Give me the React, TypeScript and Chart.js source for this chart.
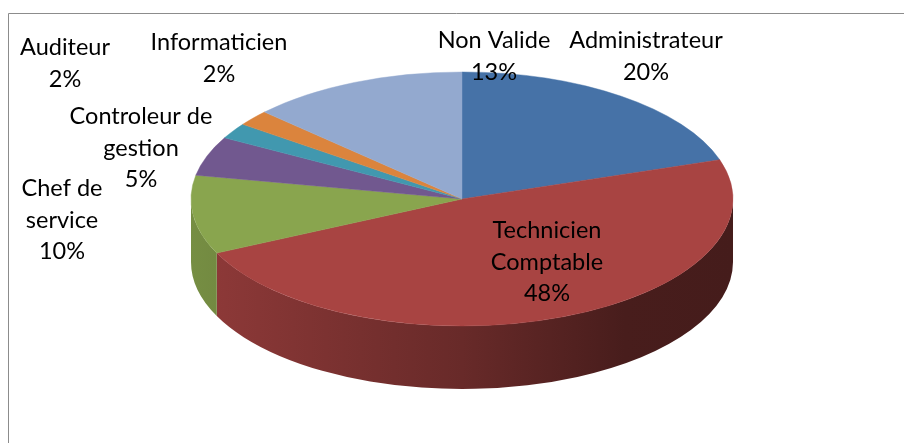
import React, { useEffect, useRef } from "react";
import { Chart, registerables } from "chart.js";

Chart.register(...registerables);

// ---- data ----
const categories = [
  "Administrateur",
  "Technicien Comptable",
  "Chef de service",
  "Controleur de gestion",
  "Auditeur",
  "Informaticien",
  "Non Valide",
];
const values = [20, 48, 10, 5, 2, 2, 13];
const nameLines = [
  ["Administrateur"],
  ["Technicien", "Comptable"],
  ["Chef de", "service"],
  ["Controleur de", "gestion"],
  ["Auditeur"],
  ["Informaticien"],
  ["Non Valide"],
];
const colors = ["#4672A7", "#A84442", "#89A54E", "#71588F", "#4198AF", "#DB843D", "#93A9CF"];

// ---- layout (not data) ----
const labelPos = [
  [646, 48],
  [547, 238],
  [62, 196],
  [141, 124],
  [65, 55],
  [219, 50],
  [494, 48],
];
const LINE_H = 31.5;
const FONT = "23.5px Lato, 'Open Sans', sans-serif";
const ELL = { cx: 462, cy: 199, rx: 271, ry: 127, depth: 63 };

function shade(hex: string, f: number) {
  const n = parseInt(hex.slice(1), 16);
  const r = Math.round(((n >> 16) & 255) * f);
  const g = Math.round(((n >> 8) & 255) * f);
  const b = Math.round((n & 255) * f);
  return `rgb(${r},${g},${b})`;
}

const pie3d = {
  id: "pie3d",
  beforeDraw(chart: any) {
    const ctx = chart.ctx;
    ctx.save();
    ctx.fillStyle = "#ffffff";
    ctx.fillRect(0, 0, chart.width, chart.height);
    ctx.strokeStyle = "#8c8c8c";
    ctx.lineWidth = 1;
    ctx.beginPath();
    ctx.moveTo(8.5, chart.height);
    ctx.lineTo(8.5, 13.5);
    ctx.lineTo(chart.width, 13.5);
    ctx.stroke();
    ctx.restore();
  },
  beforeDatasetsDraw(chart: any) {
    const ctx = chart.ctx;
    const meta = chart.getDatasetMeta(0);
    const { cx, cy, rx, ry, depth } = ELL;
    ctx.save();
    meta.data.forEach((arc: any, i: number) => {
      const p = arc.getProps(["startAngle", "endAngle"], true);
      const a = Math.max(p.startAngle, 0);
      const b = Math.min(p.endAngle, Math.PI);
      if (b <= a) return;
      const g = ctx.createLinearGradient(cx - rx, 0, cx + rx, 0);
      g.addColorStop(0, shade(colors[i], 0.86));
      g.addColorStop(0.5, shade(colors[i], 0.62));
      g.addColorStop(0.8, shade(colors[i], 0.43));
      g.addColorStop(1, shade(colors[i], 0.41));
      ctx.fillStyle = g;
      ctx.beginPath();
      ctx.ellipse(cx, cy, rx, ry, 0, a, b, false);
      ctx.ellipse(cx, cy + depth, rx, ry, 0, b, a, true);
      ctx.closePath();
      ctx.fill();
    });
    ctx.restore();
    const first = meta.data[0].getProps(["x", "y", "outerRadius"], true);
    ctx.save();
    ctx.translate(cx, cy);
    ctx.scale(rx / first.outerRadius, ry / first.outerRadius);
    ctx.translate(-first.x, -first.y);
  },
  afterDatasetsDraw(chart: any) {
    chart.ctx.restore();
  },
  afterDraw(chart: any) {
    const ctx = chart.ctx;
    ctx.save();
    ctx.font = FONT;
    ctx.fillStyle = "#000000";
    ctx.textAlign = "center";
    ctx.textBaseline = "alphabetic";
    values.forEach((v, i) => {
      const lines = [...nameLines[i], `${v}%`];
      const [x, y] = labelPos[i];
      lines.forEach((t, k) => ctx.fillText(t, x, y + k * LINE_H));
    });
    ctx.restore();
  },
};

export default function App() {
  const ref = useRef<HTMLCanvasElement>(null);
  useEffect(() => {
    const chart = new Chart(ref.current as HTMLCanvasElement, {
      type: "pie",
      data: {
        labels: categories,
        datasets: [
          {
            data: values,
            backgroundColor: colors,
            borderColor: colors,
            borderWidth: 0.5,
            clip: false,
          } as any,
        ],
      },
      options: {
        responsive: false,
        animation: false,
        events: [],
        layout: { padding: 0 },
        plugins: { legend: { display: false }, tooltip: { enabled: false } },
      },
      plugins: [pie3d as any],
    });
    return () => chart.destroy();
  }, []);
  return (
    <div style={{ position: "fixed", left: 0, top: 0, width: 904, height: 443, background: "#fff" }}>
      <canvas ref={ref} width={904} height={443} style={{ display: "block", width: 904, height: 443 }} />
    </div>
  );
}
